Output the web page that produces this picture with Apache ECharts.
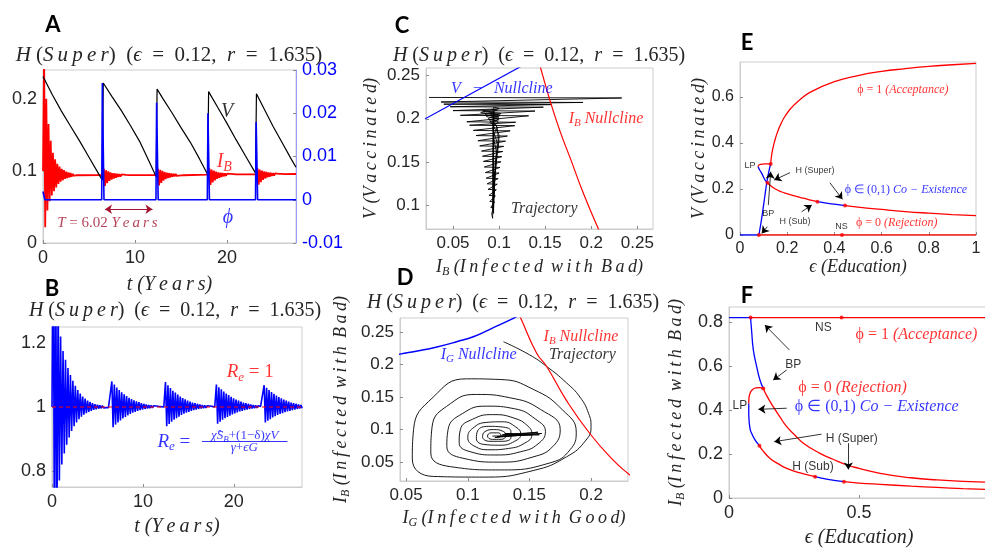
<!DOCTYPE html>
<html>
<head>
<meta charset="utf-8">
<script src="https://cdn.jsdelivr.net/npm/echarts@6/dist/echarts.min.js"></script>
<style>
  html, body { margin: 0; padding: 0; background: #fff; }
  #chart { width: 985px; height: 551px; }
</style>
</head>
<body>
<div id="chart"></div>
<script>
// ---------------- Panel A: V, I_B and phi over time ----------------
const vaccinatedA = [[0,0.231],[1,0.206],[2,0.183],[3,0.162],[4,0.141],[5,0.119],[6,0.097],[6.45,0.087],
  [6.5,0.087],[6.55,0.222],[7.5,0.203],[8.5,0.184],[9.5,0.163],[10.5,0.141],[11.5,0.114],[12.3,0.092],
  [12.35,0.092],[12.4,0.2135],[13,0.201],[14,0.181],[15,0.16],[16,0.14],[17,0.117],[17.9,0.095],
  [17.95,0.095],[18,0.21],[19,0.188],[20,0.166],[21,0.143],[22,0.121],[23.1,0.097],
  [23.15,0.097],[23.2,0.207],[24,0.187],[25,0.162],[26,0.139],[27,0.116],[27.5,0.105]];
const phiA = [[0,0.0019],[0.12,0.0019],[0.2,0],[6.38,0],[6.45,0.027],[6.58,0.027],[6.63,0],
  [12.28,0],[12.35,0.0224],[12.47,0.0224],[12.52,0],[17.86,0],[17.93,0.020],[18.04,0.020],[18.09,0],
  [23.1,0],[23.17,0.018],[23.28,0.018],[23.33,0],[27.5,0]];
const ibStep = 0.12;
const ibInitial = [0.10,0.26,0.022,0.20,0.045,0.165,0.058,0.142,0.066,0.125,0.072,0.116,0.077,0.110,0.082,
  0.106,0.085,0.103,0.087,0.101,0.089,0.099,0.090,0.098,0.091,0.097,0.092,0.096,0.093,0.095,0.094];
const ibPulseStarts = [6.5, 12.38, 17.97, 23.2];
const ibPulse1 = [0.094,0.103,0.079,0.101,0.083,0.0995,0.086,0.098,0.088,0.097,0.0895,0.0965,0.0905,0.096,
  0.0915,0.0955,0.092,0.095,0.0928,0.0948,0.0933,0.0945,0.0936,0.0943,0.0938,0.0941];
const ibPulse2 = [0.0945,0.103,0.080,0.1015,0.0835,0.1,0.0865,0.0985,0.0885,0.0975,0.09,0.097,0.091,0.0965,
  0.092,0.096,0.0925,0.0958,0.093,0.0955,0.0935,0.0953,0.0938,0.095,0.094,0.0948];
const ibPulse3 = [0.095,0.1035,0.0805,0.102,0.084,0.1005,0.087,0.099,0.089,0.098,0.0905,0.0975,0.0915,0.097,
  0.0925,0.0965,0.093,0.0962,0.0935,0.096,0.094,0.0958,0.0943,0.0955,0.0945,0.0952];
const ibPulse4 = [0.0952,0.1035,0.081,0.102,0.0845,0.1005,0.0875,0.0995,0.0895,0.0985,0.091,0.098,0.092,
  0.0975,0.093,0.097,0.0935,0.0965,0.094,0.0962,0.0943,0.096,0.0946,0.0958,0.0948,0.0956];
const ibSteady = [[6.44,0.0941],[12.32,0.0943],[17.91,0.0949],[23.14,0.0952],[27.5,0.0957]];

// ---------------- Panel B: effective reproduction number ----------------
const reStep = 0.135;
const reInitial = [1.0,1.6,0.5,1.5,0.6,1.34,0.77,1.22,0.82,1.175,0.855,1.148,0.882,1.122,0.905,1.1,0.925,
  1.082,0.94,1.066,0.952,1.053,0.962,1.042,0.97,1.033,0.976,1.026,0.981,1.02,0.985,1.016,0.988,1.012,0.991,
  1.009,0.993,1.007,0.995,1.005,0.996,1.004,0.997,1.003,0.998,1.002,0.998];
const rePulseStarts = [6.45, 12.35, 17.95, 23.2];
const rePulse1 = [1.0,1.08,0.937,1.07,0.945,1.061,0.952,1.053,0.958,1.046,0.964,1.04,0.969,1.034,0.974,1.029,
  0.978,1.025,0.982,1.021,0.985,1.018,0.988,1.015,0.99,1.012,0.992,1.01,0.994,1.008,0.995,1.006,0.996,1.005,
  0.997,1.004,0.998,1.003,0.998,1.002,1.0];
const rePulse2 = [1.0,1.078,0.94,1.068,0.947,1.059,0.954,1.051,0.96,1.045,0.965,1.039,0.97,1.033,0.975,1.028,
  0.979,1.024,0.982,1.02,0.985,1.017,0.988,1.014,0.99,1.012,0.992,1.01,0.994,1.008,0.995,1.006,0.996,1.005,
  0.997,1.004,0.998,1.003,0.999,1.002,1.0];
const rePulse3 = [1.0,1.07,0.948,1.062,0.954,1.055,0.96,1.048,0.965,1.042,0.969,1.037,0.973,1.032,0.977,1.027,
  0.98,1.023,0.983,1.02,0.986,1.017,0.988,1.014,0.99,1.012,0.992,1.01,0.994,1.008,0.995,1.006,0.996,1.005,
  0.997,1.004,0.998,1.002];
const rePulse4 = [1.0,1.068,0.952,1.06,0.957,1.053,0.962,1.047,0.967,1.041,0.971,1.036,0.975,1.031,0.978,
  1.027,0.981,1.023,0.984,1.02,0.986,1.017,0.988,1.014,0.99,1.012,0.992,1.01,0.994,1.008,0.995,1.006,0.996];
const reSteady = [[6.4,1.0],[12.3,1.0],[17.9,1.0],[23.15,1.0]];
const reUnity = [[0,1],[27.5,1]];

// ---------------- Panel C: V against I_B ----------------
const cTrajectoryFirst = [[0.024,0.2248],[0.233,0.2242],[0.037,0.2195],[0.191,0.219],[0.04,0.217],[0.157,0.2165],
  [0.047,0.214],[0.148,0.2135],[0.05,0.2095],[0.139,0.209],[0.058,0.204],[0.132,0.2035],[0.065,0.1965],[0.118,0.196],
  [0.068,0.1925],[0.117,0.192],[0.072,0.1865],[0.112,0.186],[0.075,0.1805],[0.109,0.18],[0.077,0.1745],[0.107,0.174],
  [0.079,0.1685],[0.105,0.168],[0.081,0.1625],[0.104,0.162],[0.082,0.1565],[0.103,0.156],[0.083,0.1505],[0.102,0.15],
  [0.084,0.144],[0.101,0.1435],[0.085,0.1375],[0.1,0.137],[0.086,0.131],[0.099,0.1305],[0.087,0.1245],[0.098,0.124],
  [0.088,0.118],[0.097,0.1175],[0.089,0.111],[0.096,0.1105],[0.09,0.104],[0.095,0.1035],[0.091,0.097],[0.094,0.0965],
  [0.092,0.09],[0.0935,0.088],[0.093,0.0845]];
const cTrajectoryLater = [[0.093,0.0845],[0.094,0.2135],[0.1,0.212],[0.082,0.209],[0.102,0.206],[0.086,0.203],
  [0.1,0.199],[0.09,0.196],[0.098,0.19],[0.094,0.18],[0.097,0.16],[0.095,0.13],[0.094,0.1],[0.094,0.09],
  [0.0945,0.211],[0.098,0.21],[0.08,0.207],[0.101,0.204],[0.088,0.2],[0.099,0.196],[0.093,0.19],[0.098,0.17],
  [0.096,0.14],[0.094,0.11],[0.0935,0.095],[0.094,0.208],[0.085,0.205],[0.1,0.202],[0.09,0.198],[0.097,0.192],
  [0.099,0.175],[0.096,0.15],[0.095,0.12],[0.094,0.097],[0.094,0.207],[0.09,0.204],[0.099,0.2],[0.093,0.194],
  [0.1,0.18],[0.097,0.15],[0.095,0.125],[0.0945,0.108]];
const cVNullcline = [[0.0,0.1885],[0.13,0.2645]];
const cIBNullcline = [[0.1425,0.268],[0.1453,0.258],[0.155,0.222],[0.166,0.186],[0.178,0.152],
  [0.192,0.112],[0.208,0.0715],[0.212,0.062]];

// ---------------- Panel D: I_B against I_G ----------------
const dIGNullcline = [[0.04,0.214],[0.045,0.216],[0.06,0.221],[0.075,0.227],[0.091,0.235],[0.105,0.243],
  [0.12,0.256],[0.137,0.271],[0.14,0.274]];
const dIBNullcline = [[0.142,0.275],[0.143,0.271],[0.156,0.217],[0.164,0.197],[0.18,0.145],[0.199,0.094],
  [0.218,0.053],[0.23,0.0326],[0.235,0.026]];
const dTrajectory = [[0.129,0.235],[0.15,0.215],[0.164,0.197],[0.18,0.172],[0.191,0.15],[0.198,0.125],
  [0.2,0.105],[0.196,0.084],[0.18,0.058],[0.153,0.037],[0.113,0.027],[0.072,0.028],[0.055,0.055],[0.056,0.1],
  [0.072,0.15],[0.099,0.178],[0.126,0.177],[0.153,0.162],[0.177,0.13],[0.188,0.096],[0.183,0.069],[0.167,0.049],
  [0.126,0.038],[0.086,0.043],[0.07,0.064],[0.071,0.104],[0.086,0.14],[0.107,0.154],[0.134,0.149],[0.159,0.131],
  [0.175,0.1],[0.169,0.074],[0.153,0.058],[0.126,0.05],[0.096,0.056],[0.083,0.074],[0.084,0.1],[0.096,0.125],
  [0.115,0.136],[0.138,0.132],[0.155,0.116],[0.163,0.097],[0.157,0.078],[0.143,0.066],[0.122,0.061],[0.102,0.066],
  [0.093,0.08],[0.094,0.1],[0.104,0.116],[0.12,0.123],[0.137,0.118],[0.149,0.105],[0.152,0.092],[0.146,0.079],
  [0.133,0.071],[0.118,0.069],[0.105,0.075],[0.1,0.088],[0.104,0.102],[0.115,0.111],[0.128,0.112],[0.139,0.104],
  [0.143,0.093],[0.138,0.082],[0.126,0.076],[0.114,0.077],[0.107,0.086],[0.108,0.098],[0.117,0.105],[0.128,0.104],
  [0.135,0.097],[0.135,0.088],[0.128,0.082],[0.118,0.082],[0.112,0.089],[0.114,0.097],[0.121,0.1],[0.129,0.097],
  [0.131,0.091],[0.127,0.085],[0.12,0.085],[0.116,0.09],[0.119,0.095],[0.125,0.095],[0.127,0.09],[0.122,0.088]];
const dTrajectoryPulses = [[0.122,0.088],[0.16,0.094],[0.128,0.092],[0.157,0.096],[0.124,0.089],[0.152,0.092],
  [0.13,0.094],[0.158,0.092],[0.12,0.09]];

// ---------------- Panel E: V against education ----------------
const eAcceptance = [[0.13,0.309],[0.133,0.34],[0.138,0.37],[0.146,0.405],[0.158,0.445],[0.172,0.48],
  [0.19,0.515],[0.215,0.55],[0.25,0.585],[0.3,0.622],[0.4,0.667],[0.5,0.693],[0.6,0.711],[0.7,0.723],
  [0.8,0.733],[0.9,0.74],[1.0,0.746]];
const eFoldRed = [[0.13,0.309],[0.105,0.309],[0.088,0.307],[0.079,0.303],[0.077,0.297]];
const eFoldBlue = [[0.077,0.297],[0.082,0.285],[0.092,0.268],[0.106,0.239],[0.116,0.227]];
const eRiseBlue = [[0.08,0.0],[0.09,0.06],[0.099,0.123],[0.106,0.175],[0.113,0.225],[0.121,0.27],[0.13,0.309]];
const eMidRed = [[0.116,0.227],[0.13,0.214],[0.15,0.2],[0.175,0.188],[0.198,0.18],[0.235,0.169],[0.268,0.16],
  [0.3,0.152],[0.328,0.145]];
const eMidBlue = [[0.328,0.145],[0.36,0.14],[0.4,0.134],[0.445,0.128]];
const eTailRed = [[0.445,0.128],[0.5,0.121],[0.6,0.111],[0.7,0.102],[0.8,0.095],[0.9,0.089],[1.0,0.084]];
const eBaseBlue = [[0,0],[0.08,0]];
const eBaseRed = [[0.08,0],[1,0]];
const eSpecialPoints = [[0.08,0],[0.13,0.309],[0.116,0.227],[0.328,0.145],[0.445,0.128],[0.432,0]];

// ---------------- Panel F: I_B against education ----------------
const fTopBlue = [[0,0.82],[0.083,0.82]];
const fTopRed = [[0.083,0.82],[1,0.82]];
const fDropBlue = [[0.083,0.82],[0.087,0.76],[0.0936,0.673],[0.1065,0.597],[0.119,0.536],[0.132,0.498]];
const fFoldRed = [[0.132,0.498],[0.118,0.502],[0.103,0.5],[0.09,0.492],[0.081,0.476],[0.077,0.455],[0.076,0.43]];
const fFoldBlue = [[0.076,0.43],[0.076,0.39],[0.078,0.34],[0.082,0.31],[0.087,0.294],[0.1,0.264],[0.117,0.238]];
const fLowRed = [[0.117,0.238],[0.13,0.215],[0.158,0.18],[0.19,0.155],[0.222,0.135],[0.27,0.115],[0.331,0.097]];
const fLowBlue = [[0.331,0.097],[0.38,0.085],[0.442,0.074]];
const fLowTailRed = [[0.442,0.074],[0.5,0.068],[0.581,0.062],[0.7,0.054],[0.8,0.048],[0.9,0.043],[1,0.039]];
const fUpperRed = [[0.132,0.498],[0.145,0.465],[0.17,0.415],[0.195,0.37],[0.222,0.324],[0.25,0.29],[0.286,0.249],
  [0.35,0.203],[0.4,0.176],[0.453,0.15],[0.5,0.135],[0.581,0.112],[0.7,0.092],[0.8,0.082],[0.9,0.076],[1,0.071]];
const fSpecialPoints = [[0.083,0.82],[0.433,0.82],[0.132,0.498],[0.117,0.238],[0.331,0.097],[0.442,0.074]];

// ---------------- tick values ----------------
const ticksYears = [0, 10, 20];
const ticksA = [0, 0.1, 0.2];
const ticksPhi = [-0.01, 0, 0.01, 0.02, 0.03];
const ticksRe = [0.8, 1, 1.2];
const ticksC_x = [0.05, 0.1, 0.15, 0.2, 0.25];
const ticksC_y = [0.1, 0.15, 0.2, 0.25];
const ticksD_x = [0.05, 0.1, 0.15, 0.2];
const ticksD_y = [0.05, 0.1, 0.15, 0.2, 0.25];
const ticksE_x = [0, 0.2, 0.4, 0.6, 0.8, 1];
const ticksE_y = [0, 0.2, 0.4, 0.6];
const ticksF_x = [0, 0.5, 1];
const ticksF_y = [0, 0.2, 0.4, 0.6, 0.8];

// ---------------- styling helpers ----------------
const SERIF = 'Liberation Serif';
const SANS = 'Liberation Sans';
const INK = '#262626';
const FRAME = '#cdcdcd';
const RED = '#ff0000', BLUE = '#0000ff', DARKRED = '#a2142f';

// math-italic words: thin gaps between letters, slightly wider gaps between words
function m(words) {
  return words.split(' ').map(w => w.split('').join('\u2009')).join('\u2009 ');
}

function rich(size, color) {
  return {
    i: { fontFamily: SERIF, fontStyle: 'italic', fontWeight: 'normal', fontSize: size, color },
    n: { fontFamily: SERIF, fontStyle: 'normal', fontWeight: 'normal', fontSize: size, color },
    s: { fontFamily: SERIF, fontStyle: 'italic', fontWeight: 'normal', fontSize: Math.round(size * 0.68), color,
         verticalAlign: 'bottom', padding: [Math.round(size * 0.5), 0, 0, 0] }
  };
}

function seq(t0, step, values) {
  return values.map((v, i) => [t0 + i * step, v]);
}
function byTime(a, b) { return a[0] - b[0]; }

const ibSeries = [].concat(
  seq(0, ibStep, ibInitial),
  seq(ibPulseStarts[0], ibStep, ibPulse1), seq(ibPulseStarts[1], ibStep, ibPulse2),
  seq(ibPulseStarts[2], ibStep, ibPulse3), seq(ibPulseStarts[3], ibStep, ibPulse4),
  ibSteady).sort(byTime);
const reSeries = [].concat(
  seq(0, reStep, reInitial),
  seq(rePulseStarts[0], reStep, rePulse1), seq(rePulseStarts[1], reStep, rePulse2),
  seq(rePulseStarts[2], reStep, rePulse3), seq(rePulseStarts[3], reStep, rePulse4),
  reSteady).sort(byTime);

function axis(gi, o) {
  return {
    type: 'value', gridIndex: gi, min: o.min, max: o.max, position: o.position,
    axisLine: { show: true, onZero: false, lineStyle: { color: o.lineColor || FRAME, width: 1 } },
    axisTick: { show: true, inside: true, length: 3, customValues: o.ticks, lineStyle: { color: '#8a8a8a' } },
    axisLabel: { show: true, customValues: o.ticks, formatter: v => String(+(+v).toFixed(4)),
      color: o.labelColor || INK, fontFamily: SANS, fontSize: o.fontSize || 16, margin: o.margin || 6 },
    splitLine: { show: false },
    name: o.name || '', nameLocation: 'middle', nameGap: o.nameGap || 30,
    nameTextStyle: { color: INK, fontWeight: 'normal', rich: rich(o.nameSize || 19, INK) }
  };
}

function line(xi, yi, data, color, width, extra) {
  return Object.assign({ type: 'line', xAxisIndex: xi, yAxisIndex: yi, data, showSymbol: false, symbol: 'none',
    silent: true, animation: false, lineStyle: { color, width: width || 1 } }, extra || {});
}
function note(xi, yi, at, text, size, color, sans) {
  const label = sans
    ? { show: true, position: 'inside', formatter: text, fontFamily: SANS, fontSize: size, color }
    : { show: true, position: 'inside', formatter: text, rich: rich(size, color) };
  return { type: 'scatter', xAxisIndex: xi, yAxisIndex: yi, data: [at], symbolSize: 1, silent: true, z: 10,
    itemStyle: { color: 'rgba(0,0,0,0)' }, label };
}
function arrows(xi, yi, pairs, color, symbols, width) {
  return { type: 'line', xAxisIndex: xi, yAxisIndex: yi, data: [], silent: true,
    markLine: { silent: true, animation: false, symbol: symbols || ['none', 'arrow'], symbolSize: 7,
      label: { show: false }, lineStyle: { color, width: width || 0.8, type: 'solid' },
      emphasis: { disabled: true },
      data: pairs.map(p => [{ coord: p[0] }, { coord: p[1] }]) } };
}
function dots(xi, yi, data) {
  return { type: 'scatter', xAxisIndex: xi, yAxisIndex: yi, data, symbolSize: 4, silent: true, z: 5,
    itemStyle: { color: RED } };
}

const heading = '{i|H} {n|(}{i|' + m('Super') + '}{n|)  (}{i|ϵ}{n|  =  0.12,  }{i|r}{n|  =  1.635)}';
const letterStyle = { fontFamily: 'Lato', fontWeight: 'bold', fontSize: 22, color: '#000' };
function title(text, x, y, size) {
  return { text, left: x, top: y, textAlign: 'center', padding: 0,
    textStyle: size ? { color: INK, fontWeight: 'normal', rich: rich(size, INK) } : letterStyle };
}

const nameYears = '{i|t (' + m('Years') + ')}';
const nameVacc = '{i|V (' + m('Vaccinated') + ')}';
const nameBad = '{i|I}{s|B}{i| (' + m('Infected with Bad') + ')}';
const nameGood = '{i|I}{s|G}{i| (' + m('Infected with Good') + ')}';
const nameEdu = '{i|ϵ (Education)}';

const option = {
  animation: false,
  backgroundColor: '#fff',
  title: [
    title('A', 53, 14), title('B', 52, 278), title('C', 402, 15),
    title('D', 405, 267), title('E', 747, 32), title('F', 747, 285),
    title(heading, 169, 45, 21), title(heading, 175, 301, 20), title(heading, 539, 46, 20), title(heading, 513, 293, 20)
  ],
  grid: [
    { left: 43, top: 70, width: 253, height: 173 },
    { left: 52, top: 327, width: 250, height: 160 },
    { left: 426, top: 68, width: 227, height: 161 },
    { left: 400, top: 318, width: 228, height: 163 },
    { left: 740, top: 62, width: 236, height: 173 },
    { left: 729, top: 307, width: 260, height: 191 }
  ].map(g => Object.assign(g, { show: true, borderColor: FRAME, borderWidth: 1, backgroundColor: '#fff',
    containLabel: false, outerBoundsMode: 'none' })),
  xAxis: [
    axis(0, { min: 0, max: 27.5, ticks: ticksYears, fontSize: 18, name: nameYears, nameGap: 32, nameSize: 20 }),
    axis(1, { min: 0, max: 27.5, ticks: ticksYears, fontSize: 18, name: nameYears, nameGap: 30, nameSize: 20 }),
    axis(2, { min: 0.0207, max: 0.267, ticks: ticksC_x, fontSize: 17, name: nameBad, nameGap: 28, nameSize: 18 }),
    axis(3, { min: 0.045, max: 0.23, ticks: ticksD_x, fontSize: 17, name: nameGood, nameGap: 27, nameSize: 18 }),
    axis(4, { min: 0, max: 1, ticks: ticksE_x, fontSize: 16, name: nameEdu, nameGap: 20, nameSize: 18 }),
    axis(5, { min: 0, max: 1, ticks: ticksF_x, fontSize: 18, name: nameEdu, nameGap: 30, nameSize: 20 })
  ],
  yAxis: [
    axis(0, { min: 0, max: 0.24, ticks: ticksA, fontSize: 18 }),
    axis(0, { min: -0.01, max: 0.03, ticks: ticksPhi, fontSize: 18, position: 'right',
      lineColor: '#9a9aff', labelColor: BLUE }),
    axis(1, { min: 0.75, max: 1.25, ticks: ticksRe, fontSize: 18 }),
    axis(2, { min: 0.072, max: 0.259, ticks: ticksC_y, fontSize: 17, name: nameVacc, nameGap: 46, nameSize: 18 }),
    axis(3, { min: 0.021, max: 0.2715, ticks: ticksD_y, fontSize: 17, name: nameBad, nameGap: 48, nameSize: 18 }),
    axis(4, { min: 0, max: 0.752, ticks: ticksE_y, fontSize: 16, name: nameVacc, nameGap: 25, nameSize: 18 }),
    axis(5, { min: 0, max: 0.868, ticks: ticksF_y, fontSize: 18, name: nameBad, nameGap: 42, nameSize: 18 })
  ],
  series: [
    // A
    line(0, 0, ibSeries, RED, 1.8),
    line(0, 0, vaccinatedA, '#000', 1.2),
    line(0, 1, phiA, BLUE, 1.6),
    arrows(0, 0, [[[6.74, 0.0468], [11.9, 0.0468]]], DARKRED, ['arrow', 'arrow'], 1),
    note(0, 0, [20.0, 0.182], '{i|V}', 20, '#000'),
    note(0, 0, [19.7, 0.1125], '{i|I}{s|B}', 20, RED),
    note(0, 1, [20.1, -0.0042], '{i|ϕ}', 20, BLUE),
    note(0, 0, [7.0, 0.028], '{i|T}{n| = 6.02 }{i|' + m('Years') + '}', 15, DARKRED),
    // B
    line(1, 2, reSeries, BLUE, 1.6),
    line(1, 2, reUnity, RED, 1, { lineStyle: { color: RED, width: 1, type: [4, 3] } }),
    note(1, 2, [21.8, 1.109], '{i|R}{s|e}{n| = 1}', 19, RED),
    note(1, 2, [13.4, 0.892], '{i|R}{s|e}{n| =}', 19, BLUE),
    note(1, 2, [21.2, 0.91], '{i|χ̂S}{s|B}{n|+(1−δ)}{i|χV}', 13, BLUE),
    note(1, 2, [21.15, 0.872], '{i|γ}{n|+}{i|ϵG}', 13, BLUE),
    arrows(1, 2, [[[16.5, 0.892], [25.9, 0.892]]], BLUE, ['none', 'none'], 0.8),
    // C
    line(2, 3, cTrajectoryFirst, '#000', 0.9),
    line(2, 3, cTrajectoryLater, '#000', 0.9, { smooth: 0.3 }),
    line(2, 3, cVNullcline, BLUE, 1.2),
    line(2, 3, cIBNullcline, RED, 1.2, { smooth: true }),
    note(2, 3, [0.103, 0.2346], '{i|V}{n|   −   }{i|Nullcline}', 16, BLUE),
    note(2, 3, [0.216, 0.2], '{i|I}{s|B}{i| Nullcline}', 16, RED),
    note(2, 3, [0.149, 0.095], '{i|Trajectory}', 16, '#000'),
    // D
    line(3, 4, dTrajectory, '#000', 0.9, { smooth: true }),
    line(3, 4, dTrajectoryPulses, '#000', 0.9),
    line(3, 4, dIGNullcline, BLUE, 1.5, { smooth: true }),
    line(3, 4, dIBNullcline, RED, 1.2, { smooth: true }),
    note(3, 4, [0.1088, 0.2146], '{i|I}{s|G}{i| Nullcline}', 16, BLUE),
    note(3, 4, [0.1918, 0.2428], '{i|I}{s|B}{i| Nullcline}', 16, RED),
    note(3, 4, [0.193, 0.2146], '{i|Trajectory}', 16, '#000'),
    // E
    line(4, 5, eBaseBlue, BLUE, 1.3),
    line(4, 5, eBaseRed, RED, 1.3),
    line(4, 5, eAcceptance, RED, 1.3, { smooth: true }),
    line(4, 5, eFoldRed, RED, 1.3, { smooth: true }),
    line(4, 5, eFoldBlue, BLUE, 1.3, { smooth: true }),
    line(4, 5, eRiseBlue, BLUE, 1.3, { smooth: true }),
    line(4, 5, eMidRed, RED, 1.3, { smooth: true }),
    line(4, 5, eMidBlue, BLUE, 1.3, { smooth: true }),
    line(4, 5, eTailRed, RED, 1.3, { smooth: true }),
    dots(4, 5, eSpecialPoints),
    arrows(4, 5, [
      [[0.212, 0.271], [0.145, 0.239]], [[0.381, 0.227], [0.434, 0.155]],
      [[0.12, 0.13], [0.13, 0.275]], [[0.116, 0.036], [0.092, 0.007]],
      [[0.261, 0.101], [0.304, 0.13]]], '#000'),
    note(4, 5, [0.69, 0.63], '{n|ϕ = 1 }{i|(Acceptance)}', 12, RED),
    note(4, 5, [0.703, 0.196], '{n|ϕ ∈ (0,1) }{i|Co − Existence}', 12, BLUE),
    note(4, 5, [0.664, 0.053], '{n|ϕ = 0 }{i|(Rejection)}', 12, RED),
    note(4, 5, [0.042, 0.302], 'LP', 9, '#000', true),
    note(4, 5, [0.318, 0.28], 'H (Super)', 9, '#000', true),
    note(4, 5, [0.12, 0.092], 'BP', 9, '#000', true),
    note(4, 5, [0.233, 0.057], 'H (Sub)', 9, '#000', true),
    note(4, 5, [0.43, 0.037], 'NS', 9, '#000', true),
    // F
    line(5, 6, fTopBlue, BLUE, 1.3),
    line(5, 6, fTopRed, RED, 1.3),
    line(5, 6, fDropBlue, BLUE, 1.3, { smooth: true }),
    line(5, 6, fFoldRed, RED, 1.3, { smooth: true }),
    line(5, 6, fFoldBlue, BLUE, 1.3, { smooth: true }),
    line(5, 6, fLowRed, RED, 1.3, { smooth: true }),
    line(5, 6, fLowBlue, BLUE, 1.3, { smooth: true }),
    line(5, 6, fLowTailRed, RED, 1.3, { smooth: true }),
    line(5, 6, fUpperRed, RED, 1.3, { smooth: true }),
    dots(5, 6, fSpecialPoints),
    arrows(5, 6, [
      [[0.232, 0.673], [0.138, 0.786]], [[0.222, 0.582], [0.17, 0.536]],
      [[0.222, 0.408], [0.113, 0.403]], [[0.356, 0.29], [0.174, 0.256]],
      [[0.459, 0.249], [0.459, 0.13]]], '#000'),
    note(5, 6, [0.363, 0.776], 'NS', 12, '#000', true),
    note(5, 6, [0.721, 0.74], '{n|ϕ = 1 }{i|(Acceptance)}', 16, RED),
    note(5, 6, [0.247, 0.607], 'BP', 12, '#000', true),
    note(5, 6, [0.475, 0.503], '{n|ϕ = 0 }{i|(Rejection)}', 16, RED),
    note(5, 6, [0.568, 0.415], '{n|ϕ ∈ (0,1) }{i|Co − Existence}', 16, BLUE),
    note(5, 6, [0.042, 0.418], 'LP', 12, '#000', true),
    note(5, 6, [0.472, 0.271], 'H (Super)', 12, '#000', true),
    note(5, 6, [0.323, 0.142], 'H (Sub)', 12, '#000', true)
  ]
};

const chart = echarts.init(document.getElementById('chart'), null, { renderer: 'canvas' });
chart.setOption(option);
</script>
</body>
</html>
